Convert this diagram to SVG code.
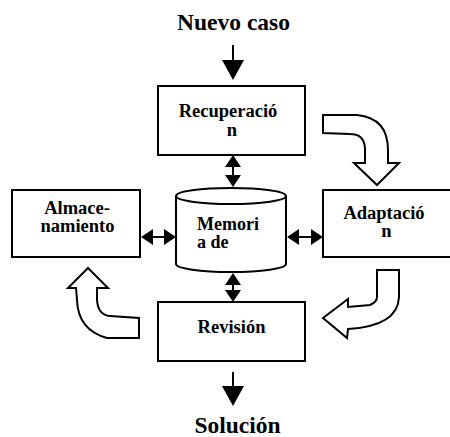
<svg xmlns="http://www.w3.org/2000/svg" width="450" height="437" viewBox="0 0 450 437">
<style>
.box{fill:#fff;stroke:#000;stroke-width:2}
.blk{fill:#fff;stroke:#000;stroke-width:2;stroke-linejoin:miter}
.lbl{font-family:"Liberation Serif","Times New Roman",serif;font-weight:bold;font-size:18.5px;fill:#000}
.ttl{font-family:"Liberation Serif","Times New Roman",serif;font-weight:bold;font-size:23.5px;fill:#000}
.ln{stroke:#000;stroke-width:2;fill:none}
</style>
<defs>
<marker id="big" markerUnits="userSpaceOnUse" viewBox="0 0 20 22" refX="0" refY="11" markerWidth="20" markerHeight="22" orient="auto-start-reverse">
<path d="M0,0 L20,11 L0,22 Z" fill="#000"/>
</marker>
<marker id="sm" markerUnits="userSpaceOnUse" viewBox="0 0 12 16" refX="0" refY="8" markerWidth="12" markerHeight="16" orient="auto-start-reverse">
<path d="M0,0 L12,8 L0,16 Z" fill="#000"/>
</marker>
</defs>
<rect width="450" height="437" fill="#fff"/>
<text class="ttl" x="233.5" y="29.5" text-anchor="middle">Nuevo caso</text>
<text class="ttl" x="237.5" y="432.5" text-anchor="middle">Solución</text>
<g id="recuperacion">
<rect class="box" x="158" y="86" width="147" height="69"/>
<text class="lbl" x="228" y="117" text-anchor="middle">Recuperació</text>
<text class="lbl" x="232" y="135.5" text-anchor="middle">n</text>
</g>
<g id="almacenamiento">
<rect class="box" x="12" y="190" width="128" height="67"/>
<text class="lbl" x="77" y="213.5" text-anchor="middle">Almace-</text>
<text class="lbl" x="77.5" y="232" text-anchor="middle">namiento</text>
</g>
<g id="memoria">
<path class="box" d="M176,196 L176,264 A55,8 0 0 0 286,264 L286,196 A55,8 0 0 0 176,196 Z"/>
<path class="ln" d="M176,196 A55,8 0 0 0 286,196"/>
<text class="lbl" x="197" y="229.5" style="font-size:18px">Memori</text>
<text class="lbl" x="197" y="248" style="font-size:18px">a de</text>
</g>
<g id="adaptacion">
<rect class="box" x="323" y="190" width="140" height="67"/>
<text class="lbl" x="384" y="218.5" text-anchor="middle">Adaptació</text>
<text class="lbl" x="386.5" y="237" text-anchor="middle">n</text>
</g>
<g id="revision">
<rect class="box" x="158" y="302" width="147" height="59"/>
<text class="lbl" x="231.5" y="333" text-anchor="middle">Revisión</text>
</g>
<g id="connectors">
<line class="ln" x1="233" y1="45" x2="233" y2="60" marker-end="url(#big)"/>
<line class="ln" x1="233" y1="372" x2="233" y2="386" marker-end="url(#big)"/>
<line class="ln" x1="233" y1="167" x2="233" y2="175" marker-start="url(#sm)" marker-end="url(#sm)"/>
<line class="ln" x1="233" y1="285" x2="233" y2="290" marker-start="url(#sm)" marker-end="url(#sm)"/>
<line class="ln" x1="153" y1="237" x2="164" y2="237" marker-start="url(#sm)" marker-end="url(#sm)"/>
<line class="ln" x1="299" y1="237" x2="311" y2="237" marker-start="url(#sm)" marker-end="url(#sm)"/>
<path class="blk" d="M323,115 L357,115 Q388,118 388,150 L388,163 L399,163 L377,185 L354,163 L365,163 L365,148 Q364,134 350,134 L323,133 Z"/>
<path class="blk" d="M377,270 L399,270 L399,297 Q398,326 348,329 L347,338 L323,318 L348,299 L348,307 L370,305 Q377,302 377,297 Z"/>
<path class="blk" d="M88,268 L108,288 L97,288 L97,300 Q98,315 110,316 L139,318 L139,338 L107,338 Q78,330 77,300 L76,288 L68,288 Z"/>
</g>
</svg>
